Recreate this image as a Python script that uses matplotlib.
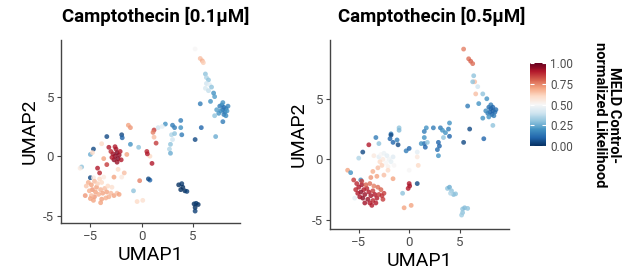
import matplotlib
matplotlib.use("Agg")
import matplotlib.pyplot as plt
import numpy as np

plt.rcParams['font.family'] = ['Roboto', 'DejaVu Sans']

# panel 1: Camptothecin 0.1uM  (UMAP1, UMAP2, MELD likelihood)
pts_low = [
    (5.2, 9.0, .5), (5.7, 8.2, .65), (5.9, 8.0, .68), (6.0, 7.85, .62),
    (6.2, 6.9, .3), (6.3, 6.6, .35), (6.5, 6.4, .3), (6.3, 6.1, .4), (6.6, 6.0, .45),
    (6.2, 5.7, .42), (6.5, 5.5, .38), (6.8, 5.8, .3),
    (7.0, 5.3, .2), (7.1, 5.0, .22), (6.7, 4.6, .2), (5.7, 4.4, .15),
    (7.6, 4.2, .15), (7.8, 4.3, .18), (8.0, 4.1, .12), (8.2, 4.0, .15), (7.9, 3.9, .13),
    (8.1, 3.7, .15), (8.3, 3.8, .2), (7.7, 3.8, .18), (7.5, 3.6, .2), (8.0, 3.5, .15),
    (8.4, 4.2, .17), (7.9, 4.5, .2), (7.3, 3.9, .22), (8.2, 3.4, .18),
    (7.1, 3.4, .3), (7.9, 2.9, .15),
    (3.8, 3.0, .15), (5.8, 2.4, .1), (2.3, 2.7, .2), (3.0, 2.6, .15), (3.2, 2.4, .15), (3.8, 2.4, .2),
    (1.2, 2.2, .85), (1.6, 2.4, .4), (2.0, 2.5, .45),
    (1.1, 2.0, .75), (1.4, 1.1, .85), (1.2, 1.6, .65), (1.0, -0.6, .9), (0.8, 0.0, .6),
    (0.5, 0.4, .88), (0.55, 0.2, .9),
    (2.9, 1.8, .35), (3.2, 1.9, .3), (3.9, 1.8, .15), (2.8, 1.0, .3), (2.7, 0.6, .35),
    (2.8, 0.25, .25), (3.0, 1.4, .4),
    (5.2, 1.4, .05), (7.2, 1.65, .25), (0.8, -2.0, .1),
    (3.6, -2.4, .0), (3.9, -2.3, .02), (4.0, -2.6, .0), (4.2, -2.9, .0), (4.4, -2.95, .03), (3.8, -2.8, .0),
    (5.1, -4.0, .0), (5.3, -3.95, .02), (5.5, -4.05, .0), (5.2, -4.3, .0), (5.2, -4.6, .03),
    (-3.4, 1.65, .05), (-1.95, 1.8, .05), (-1.9, 1.55, .1), (-1.1, 1.0, .2), (-0.3, 0.75, .3),
    (-1.3, 2.6, .7), (-1.1, 2.4, .72),
    (-3.2, 0.75, .9), (-3.9, 1.05, .6), (-4.7, 0.6, .05), (-5.0, 0.15, .25), (-4.8, 0.3, .6),
    (-2.6, 0.0, .95), (-2.4, 0.3, .97), (-2.8, 0.2, .93), (-2.3, -0.2, .96), (-2.7, -0.3, .95),
    (-2.5, 0.6, .92), (-2.9, -0.1, .9), (-2.2, 0.1, .94), (-2.4, -0.5, .93), (-2.1, 0.4, .9),
    (-3.0, 0.4, .88), (-2.6, 0.8, .9), (-2.0, -0.3, .9),
    (-1.45, 0.15, .7), (-3.7, -0.2, .7), (-3.4, -0.7, .85), (-4.3, -1.0, .9), (-4.1, -1.4, .88),
    (-5.85, -0.9, .3), (-5.0, -1.8, .05), (-4.7, -1.8, .55), (-6.0, -1.0, .55),
    (0.65, -1.9, .05), (-0.2, -2.05, .75), (-2.3, -1.1, .6), (-1.95, -1.75, .55),
    (-2.7, -1.75, .7), (-1.7, -1.4, .65),
    (-0.8, -2.9, .3), (-0.45, -3.8, .6), (0.1, -3.7, .58),
    (-5.2, -2.2, .68), (-4.9, -2.4, .7), (-4.6, -2.1, .66), (-4.4, -2.6, .7), (-4.8, -2.8, .72),
    (-5.1, -2.9, .68), (-4.5, -3.0, .7), (-4.2, -3.2, .68), (-4.0, -2.8, .67), (-3.8, -3.1, .7),
    (-3.6, -2.7, .65), (-3.4, -3.0, .7), (-3.2, -3.4, .68), (-4.6, -3.4, .72), (-4.9, -3.3, .66),
    (-3.9, -3.6, .7), (-3.5, -3.5, .68), (-3.0, -3.1, .66), (-2.7, -3.3, .7), (-2.4, -3.1, .65),
    (-2.2, -3.2, .7), (-5.4, -2.5, .64), (-4.3, -2.3, .62), (-3.9, -2.2, .6), (-4.7, -3.7, .7),
    (-5.0, -3.55, .7), (-3.3, -2.5, .6), (-2.9, -2.6, .58), (-4.1, -1.9, .6), (-3.7, -1.75, .55),
    (-4.0, -3.9, .7), (-5.5, -3.3, .72),
]

# panel 2: Camptothecin 0.5uM
pts_high = [
    (5.4, 9.1, .75), (5.9, 8.3, .78), (6.1, 8.1, .8), (6.3, 7.9, .78),
    (6.4, 6.9, .3), (6.5, 6.4, .65), (6.3, 6.4, .3), (6.8, 6.0, .4), (6.6, 5.4, .65),
    (7.3, 5.4, .3), (6.9, 4.6, .2), (7.7, 5.0, .2), (5.8, 4.4, .15),
    (7.9, 4.3, .12), (8.1, 4.2, .1), (8.3, 4.0, .08), (8.5, 3.9, .12), (8.0, 3.9, .1),
    (8.2, 3.7, .1), (8.4, 3.6, .15), (7.8, 3.8, .15), (8.6, 4.1, .12), (8.1, 4.5, .15),
    (7.6, 4.0, .18), (8.3, 4.3, .1), (7.9, 3.5, .2),
    (7.3, 3.4, .2), (8.3, 2.8, .3), (6.0, 2.5, .05), (7.4, 1.7, .1), (5.4, 1.4, .05),
    (4.0, 3.0, .2), (3.9, 2.5, .15), (3.1, 2.6, .15), (3.3, 2.4, .2), (2.4, 2.6, .15),
    (1.7, 2.6, .2), (1.5, 2.3, .15), (3.6, 2.2, .2),
    (1.5, 1.8, .2), (1.5, 1.3, .1), (1.6, 1.0, .1), (1.2, 1.3, .2), (1.8, 1.4, .3),
    (2.9, 1.4, .1), (3.0, 1.1, .1), (2.8, 0.8, .12), (3.4, 1.8, .3), (4.0, 1.9, .1), (2.9, 0.3, .2),
    (0.8, 0.6, .45), (0.8, 0.2, .55), (0.9, -0.5, .6), (-0.3, 0.7, .15), (0.0, 0.9, .1),
    (3.8, -2.4, .3), (4.0, -2.3, .25), (4.2, -2.6, .3), (4.4, -2.9, .28), (4.6, -2.85, .3), (4.1, -2.8, .35),
    (5.3, -4.1, .3), (5.5, -4.0, .28), (5.8, -4.05, .3), (5.3, -4.4, .3), (5.2, -4.6, .32),
    (-1.0, 2.6, .3), (-1.0, 2.4, .28), (-1.8, 2.1, .15), (-3.3, 1.8, .15), (-3.0, 1.3, .3),
    (-1.8, 2.0, .05), (-1.6, 1.4, .1), (-1.1, 1.2, .05), (-1.9, 1.7, .1), (-1.2, 1.6, .15),
    (-4.6, 0.6, .05), (-4.0, 1.2, .9), (-5.0, 0.1, .35), (-3.5, 0.3, .55), (-3.0, 0.2, .45),
    (-2.8, 0.4, .5), (-2.5, 0.5, .47), (-2.2, 0.3, .45), (-2.0, 0.0, .48), (-2.6, 0.0, .55),
    (-2.3, -0.3, .5), (-1.8, -0.2, .46), (-1.6, 0.2, .44), (-2.9, -0.2, .6), (-2.1, -0.6, .52),
    (-1.5, -0.5, .5), (-2.7, -0.5, .62),
    (-3.1, -0.7, .65), (-2.1, -0.9, .6), (-1.6, -1.6, .7), (0.0, -0.9, .5), (-6.1, -0.9, .7),
    (-5.8, -1.1, .2), (-4.8, -1.7, .2), (-5.5, -1.7, .85),
    (-3.6, -1.0, .68), (-3.8, -1.5, .72), (-2.5, -1.3, .65), (-3.2, -1.4, .7),
    (-5.2, -2.0, .88), (-5.0, -2.3, .9), (-4.7, -2.1, .92), (-4.5, -2.5, .9), (-4.8, -2.7, .95),
    (-5.1, -2.8, .9), (-4.4, -2.9, .93), (-4.2, -2.4, .88), (-4.0, -2.7, .9), (-3.8, -3.0, .92),
    (-3.6, -2.6, .85), (-3.4, -2.9, .9), (-3.2, -3.2, .9), (-4.6, -3.2, .95), (-4.9, -3.1, .92),
    (-4.1, -3.3, .93), (-3.9, -3.6, .9), (-3.6, -3.4, .88), (-3.0, -2.9, .85), (-2.7, -3.0, .87),
    (-2.5, -2.8, .85), (-4.3, -2.1, .8), (-3.9, -2.0, .78), (-3.5, -2.2, .75), (-3.1, -2.3, .78),
    (-4.4, -3.6, .92), (-3.7, -3.8, .9), (-2.8, -2.5, .8), (-4.7, -1.8, .85), (-5.3, -2.5, .88),
    (-3.3, -3.6, .9), (-2.6, -3.3, .85),
    (0.0, -2.0, .9), (0.05, -2.2, .92), (-0.1, -2.4, .9), (0.8, -2.0, .05), (-0.65, -2.8, .3),
    (-0.5, -4.0, .7), (0.2, -3.8, .7), (-5.4, -3.2, .45),
]

titles = ["Camptothecin [0.1\u03bcM]", "Camptothecin [0.5\u03bcM]"]
ticks = [-5, 0, 5]
cbar_ticks = [0.0, 0.25, 0.5, 0.75, 1.0]

fig = plt.figure(figsize=(6.25, 2.71), dpi=100)
W, H = 625, 271

def px_axes(x0, y0, x1, y1):
    return fig.add_axes([x0 / W, 1 - y1 / H, (x1 - x0) / W, (y1 - y0) / H])

ax1 = px_axes(61, 40, 240, 223)
ax2 = px_axes(330, 40, 509, 229)
lims = [((-7.86, 9.57), (-5.6, 9.75)), ((-7.85, 9.9), (-5.75, 9.85))]

sc = None
for ax, pts, title, (xl, yl), tx in zip([ax1, ax2], [pts_low, pts_high], titles, lims, [62, 338]):
    d = np.array(pts)
    sc = ax.scatter(d[:, 0], d[:, 1], c=d[:, 2], cmap="RdBu_r", vmin=0, vmax=1,
                    s=12, alpha=0.8, linewidths=0)
    ax.set_xlim(*xl)
    ax.set_ylim(*yl)
    ax.set_xticks(ticks)
    ax.set_yticks(ticks)
    ax.set_xticklabels(["\u22125", "0", "5"])
    ax.set_yticklabels(["-5", "0", "5"])
    for s in ["top", "right"]:
        ax.spines[s].set_visible(False)
    for s in ["left", "bottom"]:
        ax.spines[s].set_color("#444444")
        ax.spines[s].set_linewidth(1.0)
    ax.tick_params(colors="#444444", labelcolor="#4d4d4d", labelsize=9.5, length=3, width=0.8, pad=2)
    ax.set_xlabel("UMAP1", fontsize=14, labelpad=2)
    ax.set_ylabel("UMAP2", fontsize=14, labelpad=3)
    fig.text(tx / W, 1 - 16 / H, title, fontsize=13.4, fontweight="bold", ha="left", va="center")

cax = px_axes(530, 63, 546, 146)
cb = fig.colorbar(sc, cax=cax, ticks=cbar_ticks)
cb.solids.set_alpha(1)
cb.outline.set_visible(False)
cb.ax.set_yticklabels(["0.00", "0.25", "0.50", "0.75", "1.00"])
cb.ax.tick_params(direction="in", color="white", length=3, width=0.8, left=True, right=True,
                  labelsize=8.5, labelcolor="#4d4d4d", pad=3)
fig.text(607 / W, 1 - 115 / H, "MELD Control-\nnormalized Likelihood", rotation=270,
         fontsize=10.5, fontweight="bold", ha="center", va="center", linespacing=1.0)

plt.savefig("out.png", dpi=100)
